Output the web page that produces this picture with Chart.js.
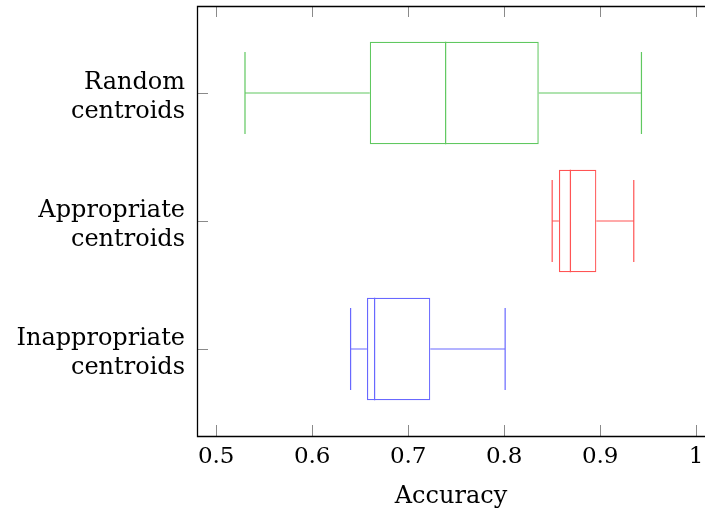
<!DOCTYPE html>
<html>
<head>
<meta charset="utf-8">
<script src="https://cdn.jsdelivr.net/npm/chart.js@4"></script>
<style>
  html, body { margin: 0; padding: 0; background: #fff; }
  #wrap { width: 705px; height: 515px; }
</style>
</head>
<body>
<div id="wrap"><canvas id="accuracyChart"></canvas></div>
<script>
// Box plot data, one entry per group
const groupLabels = [["Random", "centroids"], ["Appropriate", "centroids"], ["Inappropriate", "centroids"]];
const groupPositions = [3, 2, 1];
const lowWhisker = [0.530, 0.850, 0.640];
const lowerQuartile = [0.660, 0.857, 0.657];
const medianValues = [0.739, 0.869, 0.665];
const upperQuartile = [0.836, 0.896, 0.723];
const highWhisker = [0.943, 0.935, 0.801];
const groupColors = ["rgb(96,200,96)", "rgb(255,84,84)", "rgb(104,104,255)"];

const xTickValues = [0.5, 0.6, 0.7, 0.8, 0.9, 1.0];
const axisTitle = "Accuracy";

const BOX_HALF = 0.4;
const CAP_HALF = 0.32;
const GAP = { x: NaN, y: NaN };

const serif = "'DejaVu Serif', serif";

// whiskers, caps and median for one group as a broken line
const whiskerPoints = (i) => {
    const p = groupPositions[i];
    return [
        { x: lowWhisker[i], y: p - CAP_HALF }, { x: lowWhisker[i], y: p + CAP_HALF }, GAP,
        { x: lowWhisker[i], y: p }, { x: lowerQuartile[i], y: p }, GAP,
        { x: medianValues[i], y: p - BOX_HALF }, { x: medianValues[i], y: p + BOX_HALF }, GAP,
        { x: upperQuartile[i], y: p }, { x: highWhisker[i], y: p }, GAP,
        { x: highWhisker[i], y: p - CAP_HALF }, { x: highWhisker[i], y: p + CAP_HALF }
    ];
};

const whiskerSets = groupPositions.map((p, i) => ({
    type: "line",
    data: whiskerPoints(i),
    borderColor: groupColors[i],
    borderWidth: 1.2,
    pointRadius: 0,
    tension: 0,
    fill: false,
    spanGaps: false,
}));

// frame with inward tick marks (right edge falls off the canvas)
const frameTicks = {
    id: "frameTicks",
    afterDatasetsDraw(chart) {
        const { ctx, chartArea: a, scales } = chart;
        const len = 11;
        ctx.save();
        ctx.lineWidth = 1;
        ctx.strokeStyle = "#8a8a8a";
        ctx.beginPath();
        scales.x.ticks.forEach(t => {
            const px = Math.round(scales.x.getPixelForValue(t.value)) + 0.5;
            ctx.moveTo(px, a.bottom); ctx.lineTo(px, a.bottom - len);
            ctx.moveTo(px, a.top); ctx.lineTo(px, a.top + len);
        });
        scales.y.ticks.forEach(t => {
            const py = Math.round(scales.y.getPixelForValue(t.value)) + 0.5;
            ctx.moveTo(a.left, py); ctx.lineTo(a.left + len, py);
        });
        ctx.stroke();
        ctx.strokeStyle = "#000";
        ctx.lineWidth = 1.3;
        const l = Math.round(a.left) + 0.5, t = Math.round(a.top) + 0.5, b = Math.round(a.bottom) + 0.5;
        ctx.beginPath();
        ctx.moveTo(a.right, t); ctx.lineTo(l, t); ctx.lineTo(l, b); ctx.lineTo(a.right, b);
        ctx.stroke();
        ctx.restore();
    }
};

new Chart(document.getElementById("accuracyChart"), {
    type: "bar",
    data: {
        datasets: [
            {
                type: "bar",
                indexAxis: "y",
                data: groupPositions.map((p, i) => ({ x: [lowerQuartile[i], upperQuartile[i]], y: p })),
                backgroundColor: "rgba(0,0,0,0)",
                borderColor: groupColors,
                borderWidth: 1.2,
                borderSkipped: false,
                categoryPercentage: 1,
                barPercentage: 2 * BOX_HALF,
            },
            ...whiskerSets
        ]
    },
    options: {
        responsive: true,
        maintainAspectRatio: false,
        animation: false,
        layout: { padding: { top: 6, right: 0, left: 0, bottom: 0 } },
        plugins: {
            legend: { display: false },
            tooltip: { enabled: false }
        },
        scales: {
            x: {
                type: "linear",
                position: "bottom",
                offset: false,
                min: 0.48,
                max: 1.0092,
                grid: { display: false, drawTicks: false, offset: false },
                border: { display: false },
                afterBuildTicks: (axis) => { axis.ticks = xTickValues.map(v => ({ value: v })); },
                afterFit: (axis) => {
                    axis.height = 79;
                    axis.paddingLeft = 0;
                    axis.paddingRight = 0;
                },
                ticks: {
                    padding: 7,
                    color: "#000",
                    font: { family: serif, size: 23 },
                    callback: (v) => String(+Number(v).toFixed(1)),
                },
                title: {
                    display: true,
                    text: axisTitle,
                    color: "#000",
                    font: { family: serif, size: 24 },
                    padding: { top: 4, bottom: 4 },
                }
            },
            y: {
                type: "linear",
                position: "left",
                offset: false,
                min: 0.32,
                max: 3.68,
                grid: { display: false, drawTicks: false, offset: false },
                border: { display: false },
                afterBuildTicks: (axis) => { axis.ticks = groupPositions.map(v => ({ value: v })); },
                afterFit: (axis) => {
                    axis.width = 197;
                    axis.paddingTop = 0;
                    axis.paddingBottom = 0;
                },
                ticks: {
                    padding: 12,
                    labelOffset: 4,
                    color: "#000",
                    font: { family: serif, size: 24, lineHeight: 1.22 },
                    callback: (v) => groupLabels[groupPositions.indexOf(v)],
                }
            }
        }
    },
    plugins: [frameTicks]
});
</script>
</body>
</html>
